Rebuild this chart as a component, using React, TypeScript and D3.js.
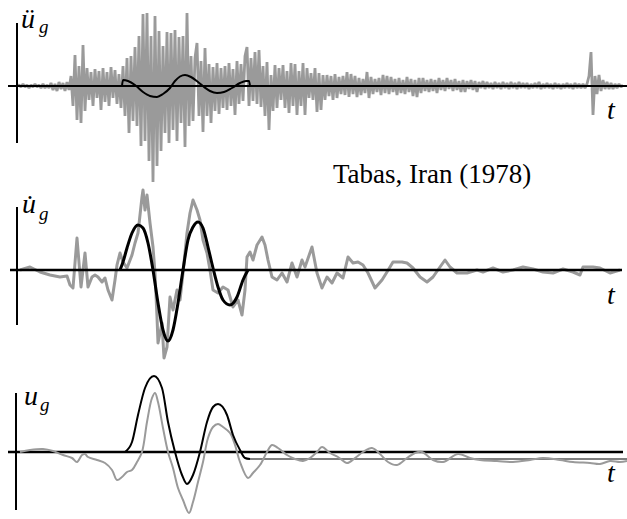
import React from "react";
import * as d3 from "d3";

// ---------- data ----------
// ground acceleration record, one sample every 0.1 s starting at t = 0 (units: 10 cm/s²)
const accelStep = 0.1;
const accelGray = [
  0, 1, -1, 2, -1, 1, -2, 1, -1, 2, -1, 1, -2, 2, -2, 1, -2,
  3, -4, 2, -5, 4, -3, 3, -5, 4, -4,
  10, -20, 31, -34, 20, -37, 41, -25, 18, -14,
  14, -20, 17, -12, 15, -24, 18, -16, 14, -20, 19, -12, 16, -18, 12,
  -22, 20, -30, 28, -47, 30, -35, 39,
  -40, 50, -60, 72, -55, 73, -75, 50, -96, 70, -80, 55, -65, 40, -47,
  54, -57, 53, -44, 56, -55, 49, -37, 50, -61, 73,
  -40, 30, -35, 28, 43, -30, 25, -46, 38, -30, 22, -37, 19, -25, 23, -28, 18, -22, 20, -24,
  23, -20, 17, -29, 25, -18, 22, -15, 30, 39, -20, 28, -15, 34, -18, 36, -21, 20, -30, 24, -44,
  11, -25, 21, -22, 18, -14, 21, -22, 15, -27, 23, -20, 22, -29, 15, -20, 23, -29, 18, -12,
  13, -14, 18, -26, 13, -24, 11, -14, 11, -10, 10, -14, 12, -12, 9, -8, 10, -9, 14, -11,
  12, -8, 10, -11, 8, -9, 7, -7, 14, -12, 9, -8, 7, -6, 8, -9, 11, -7, 10, -8,
  9, -6, 7, -9, 8, -7, 6, -8, 9, -6, 7, -10, 6, -11, 8, -7, 8, -5, 6, -6,
  7, -5, 6, -7, 8, -4, 6, -5, 8, -3,
  6, -5, 7, -4, 5, -6, 6, -6, 5, -3, 6, -4, 5, -6, 4, -2, 5, -3, 4, -2, 3, -3, 4, -2, 3,
  -3, 4, -2, 3, -3, 4, -2, 3, -3, 4, -2, 3, -2, 3, -3, 2, -2, 3, -2, 4,
  -3, 2, -2, 3, -2, 2, -3, 3, -2, 2, -3, 2, -2, 3, -2, 2, -3, 3, -2, 2, -2, 2, -2, 2,
  10, 34, -29, 10, -8, 11, -5, 6, -3, 4, -3, 3, -3, 2, -2, 2, -1, 1,
];

// acceleration pulse (black)
const accelPulseT = [5.25, 5.3, 5.55, 5.9, 6.3, 6.65, 7.0, 7.3, 7.65, 7.9, 8.15, 8.4, 8.7, 9.05, 9.35, 9.65, 10.0, 10.35, 10.75, 11.15, 11.45, 11.6, 11.65];
const accelPulseV = [0, 6, 5, 1, -6, -10, -11, -8, -2, 5, 9.5, 11, 9, 4, -1, -5, -7, -6, -2, 3, 5, 5, 0];

// ground velocity record (gray), cm/s
const velT = [
  0.15, 0.65, 1.15, 1.65, 2.15, 2.5, 2.65, 2.8, 3.0, 3.2,
  3.4, 3.55, 3.75, 3.9, 4.05, 4.25, 4.4, 4.55, 4.75, 4.9,
  5.0, 5.15, 5.3, 5.5, 5.75, 5.9, 6.05, 6.25, 6.3, 6.4,
  6.5, 6.65, 6.8, 6.9, 7.0, 7.05, 7.25, 7.35, 7.5, 7.65,
  7.8, 8.0, 8.15, 8.3, 8.5, 8.65, 8.8, 9.0, 9.15, 9.3,
  9.5, 9.65, 9.8, 10.05, 10.3, 10.55, 10.8, 11.05, 11.25, 11.4,
  11.5, 11.65, 11.8, 12.0, 12.25, 12.4, 12.55, 12.75, 13.0, 13.25,
  13.5, 13.75, 14.0, 14.25, 14.4, 14.75, 15.0, 15.25, 15.5, 15.75,
  16.0, 16.3, 16.55, 16.8, 17.05, 17.3, 17.55, 17.9, 18.25, 18.5,
  18.8, 19.25, 19.5, 19.8, 20.15, 20.5, 20.8, 21.15, 21.4, 21.65,
  22.0, 22.5, 23.0, 23.3, 23.8, 24.3, 24.8, 25.3, 25.8, 26.3,
  26.8, 27.3, 27.8, 28.15, 28.3, 28.8, 29.15, 29.65, 30.15,
];
const velGray = [
  0, 3, -2, -5, -7, -6, -15, -18, 32, -17,
  17, -17, -7, -5, -7, -12, -8, -20, -30, -10,
  5, 17, 8, 2, 15, 27, 37, 73, 80, 60,
  75, 47, 23, -3, -47, -73, -53, -88, -77, -27,
  -40, -20, -30, -3, 37, 57, 70, 60, 50, 30,
  17, 0, -20, -23, -17, -20, -37, -30, -45, -20,
  13, 18, 10, 25, 33, 25, 10, -7, -10, -3,
  -12, 7, -7, 10, 3, 23, -3, -18, -7, -13,
  -3, -8, 13, 7, 8, 5, -3, -18, -10, -2,
  8, 8, 7, 2, -7, -12, -7, 3, 10, 3,
  -3, -3, 0, -2, 2, -2, 0, 3, 1, -2,
  -3, 1, -2, -5, 3, 3, 2, -3, 0,
];

// velocity pulse (black)
const velPulseT = [5.15, 5.3, 5.5, 5.75, 6.05, 6.3, 6.55, 6.8, 7.05, 7.3, 7.55, 7.8, 8.05, 8.3, 8.55, 8.8, 9.05, 9.3, 9.55, 9.8, 10.05, 10.3, 10.65, 11.0, 11.3, 11.55];
const velPulseV = [0, 8, 22, 37, 45, 42, 27, 0, -33, -60, -71, -60, -33, 0, 30, 43, 48, 42, 23, 2, -17, -30, -35, -27, -10, 0];

// ground displacement record (gray), cm
const dispT = [
  0.15, 0.65, 1.3, 1.8, 2.3, 2.75, 3.0, 3.25, 3.4, 3.55,
  4.0, 4.4, 4.75, 5.0, 5.25, 5.5, 5.75, 6.0, 6.25, 6.5,
  6.75, 6.9, 7.05, 7.3, 7.55, 7.8, 8.05, 8.3, 8.6, 8.8,
  9.05, 9.3, 9.55, 9.8, 10.05, 10.3, 10.65, 10.9, 11.15, 11.55,
  11.8, 12.15, 12.5, 12.75, 13.05, 13.5, 13.9, 14.3, 14.65, 15.0,
  15.25, 15.65, 16.05, 16.5, 16.9, 17.3, 17.75, 18.15, 18.55, 19.0,
  19.5, 19.9, 20.25, 20.8, 21.3, 22.05, 22.65, 23.15, 24.0, 24.8,
  25.65, 26.3, 27.15, 27.8, 28.65, 29.15, 29.65, 30.15, 30.5,
];
const dispGray = [
  0, 2, 3, 1, -3, -6, -10, -3, -2, -5,
  -8, -11, -18, -28, -25, -20, -18, -10, 0, 30,
  54, 59, 50, 24, 0, -16, -36, -48, -61, -50,
  -30, -10, 14, 25, 28, 25, 19, 7, -10, -26,
  -21, -13, 0, 7, 4, -3, -7, -9, -6, 0,
  5, -1, -5, -11, -6, 0, 4, -2, -10, -13,
  -6, -1, 0, -8, -10, -2, -6, -8, -9, -10,
  -8, -6, -8, -10, -11, -12, -9, -10, -9,
];

// displacement pulse (black) and its residual offset
const dispPulseT = [5.4, 5.75, 6.05, 6.4, 6.85, 7.25, 7.55, 7.9, 8.25, 8.5, 8.8, 9.15, 9.5, 9.8, 10.05, 10.5, 10.8, 11.15, 11.4, 11.65];
const dispPulseV = [0, 10, 37, 64, 76, 64, 30, 0, -23, -32, -23, 0, 30, 45, 48, 37, 17, 2, -6, -7];
const dispResidual = -7;
const recordEnd = 30.5;

const title = "Tabas, Iran (1978)";

// ---------- chart ----------
const W = 627;
const H = 519;
const GRAY = "#9a9a9a";
const FONT = "'Liberation Serif', 'Times New Roman', serif";

export default function App() {
  const x = d3.scaleLinear().domain([0, 30.4]).range([17, 625]);
  const yA = d3.scaleLinear().domain([-100, 100]).range([186, -14]);
  const yV = d3.scaleLinear().domain([-100, 100]).range([370, 170]);
  const yD = d3.scaleLinear().domain([-100, 100]).range([552, 352]);

  const accelPath = d3
    .line<number>()
    .x((_, i) => x(i * accelStep))
    .y((d) => yA(d))(accelGray) as string;

  const pairLine = (
    ts: number[],
    vs: number[],
    ys: d3.ScaleLinear<number, number>,
    curve: d3.CurveFactory
  ) =>
    d3
      .line<number>()
      .x((_, i) => x(ts[i]))
      .y((d) => ys(d))
      .curve(curve)(vs) as string;

  const accelPulse = pairLine(accelPulseT, accelPulseV, yA, d3.curveMonotoneX);
  const velGrayPath = pairLine(velT, velGray, yV, d3.curveLinear);
  const velPulse = pairLine(velPulseT, velPulseV, yV, d3.curveMonotoneX);
  const dispGrayPath = pairLine(dispT, dispGray, yD, d3.curveCatmullRom);
  const dispPulse = pairLine(dispPulseT, dispPulseV, yD, d3.curveMonotoneX);

  const lbl = { fontFamily: FONT, fontStyle: "italic" as const, fontSize: 28 };

  return (
    <svg
      width={W}
      height={H}
      style={{ position: "absolute", left: 0, top: 0, background: "#fff" }}
    >
      {/* Panel 1: acceleration */}
      <path d={accelPath} fill="none" stroke={GRAY} strokeWidth={2.8} strokeLinejoin="miter" strokeMiterlimit={1} />
      <line x1={8} x2={627} y1={yA(0)} y2={yA(0)} stroke="#000" strokeWidth={2} />
      <line x1={17} x2={17} y1={23} y2={143} stroke="#000" strokeWidth={2} />
      <path d={accelPulse} fill="none" stroke="#000" strokeWidth={2} />
      <text x={21} y={28} style={lbl}>
        ü
      </text>
      <text x={39} y={33} style={{ ...lbl, fontSize: 19 }}>
        g
      </text>
      <text x={607} y={119} style={lbl}>
        t
      </text>

      <text x={333} y={183} style={{ fontFamily: FONT, fontSize: 27 }}>
        {title}
      </text>

      {/* Panel 2: velocity */}
      <path d={velGrayPath} fill="none" stroke={GRAY} strokeWidth={3} strokeLinejoin="round" />
      <line x1={10} x2={622} y1={yV(0)} y2={yV(0)} stroke="#000" strokeWidth={2.5} />
      <line x1={17} x2={17} y1={207} y2={325} stroke="#000" strokeWidth={2} />
      <path d={velPulse} fill="none" stroke="#000" strokeWidth={3} />
      <text x={22} y={213} style={lbl}>
        {"u\u0307"}
      </text>
      <text x={39} y={220} style={{ ...lbl, fontSize: 19 }}>
        g
      </text>
      <text x={607} y={304} style={lbl}>
        t
      </text>

      {/* Panel 3: displacement */}
      <line x1={8} x2={623} y1={yD(0)} y2={yD(0)} stroke="#000" strokeWidth={2.5} />
      <line
        x1={x(dispPulseT[dispPulseT.length - 1])}
        x2={x(recordEnd)}
        y1={yD(dispResidual)}
        y2={yD(dispResidual)}
        stroke="#000"
        strokeWidth={1.2}
      />
      <path d={dispGrayPath} fill="none" stroke={GRAY} strokeWidth={2} />
      <line x1={16} x2={16} y1={393} y2={510} stroke="#000" strokeWidth={2} />
      <path d={dispPulse} fill="none" stroke="#000" strokeWidth={2} />
      <text x={24} y={405} style={lbl}>
        u
      </text>
      <text x={40} y={411} style={{ ...lbl, fontSize: 19 }}>
        g
      </text>
      <text x={607} y={482} style={lbl}>
        t
      </text>
    </svg>
  );
}
